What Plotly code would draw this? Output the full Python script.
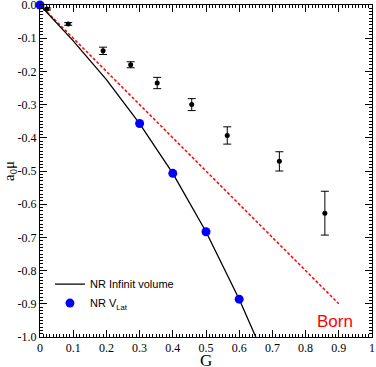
import plotly.graph_objects as go

# Data
g_data = [0.021, 0.085, 0.19, 0.273, 0.353, 0.457, 0.564, 0.721, 0.858]
a_data = [-0.012, -0.057, -0.138, -0.180, -0.235, -0.300, -0.393, -0.471, -0.627]
a_err = [0.003, 0.004, 0.011, 0.009, 0.017, 0.018, 0.026, 0.029, 0.066]

g_inf = [0.0, 0.1, 0.2, 0.3, 0.4, 0.5, 0.6, 0.65]
a_inf = [0.0, -0.108, -0.225, -0.357, -0.507, -0.683, -0.886, -1.0]

g_lat = [0.0, 0.3, 0.4, 0.5, 0.6]
a_lat = [0.0, -0.357, -0.507, -0.683, -0.886]

g_born = [0.0, 0.9]
a_born = [0.0, -0.9]

x_ticks = [0, 0.1, 0.2, 0.3, 0.4, 0.5, 0.6, 0.7, 0.8, 0.9, 1]
x_ticklabels = ["0", "0.1", "0.2", "0.3", "0.4", "0.5", "0.6", "0.7", "0.8", "0.9", "1"]
y_ticks = [0.0, -0.1, -0.2, -0.3, -0.4, -0.5, -0.6, -0.7, -0.8, -0.9, -1.0]
y_ticklabels = ["0.0", "-0.1", "-0.2", "-0.3", "-0.4", "-0.5", "-0.6", "-0.7", "-0.8", "-0.9", "-1.0"]

fig = go.Figure()

fig.add_trace(go.Scatter(
    x=g_born, y=a_born, mode="lines",
    line=dict(color="#ff0000", width=1.5, dash="3px,2px"),
    showlegend=False, hoverinfo="skip", cliponaxis=False))

fig.add_trace(go.Scatter(
    x=g_inf, y=a_inf, mode="lines", name="NR Infinit volume",
    line=dict(color="black", width=1.3)))

fig.add_trace(go.Scatter(
    x=g_lat, y=a_lat, mode="markers", name="NR V<sub>Lat</sub>",
    marker=dict(color="#0000ff", size=9), cliponaxis=False))

fig.add_trace(go.Scatter(
    x=g_data, y=a_data, mode="markers", showlegend=False,
    marker=dict(color="black", size=5),
    error_y=dict(type="data", array=a_err, color="black", thickness=1, width=4)))

fig.add_annotation(x=0.89, y=-0.953, text="Born", showarrow=False,
                   font=dict(family="Liberation Sans", size=17, color="#ff0000"))

# axis titles
fig.add_annotation(xref="paper", yref="paper", x=0.5, y=0, yshift=-23, yanchor="middle",
                   text="G", showarrow=False,
                   font=dict(family="Liberation Serif", size=17, color="black"))
fig.add_annotation(xref="paper", yref="paper", x=0, y=0.5, xshift=-30, xanchor="center",
                   text="a<sub>0</sub>μ", showarrow=False, textangle=-90,
                   font=dict(family="Liberation Serif", size=15, color="black"))

axis_common = dict(
    showline=True, linecolor="black", linewidth=1, mirror="allticks",
    ticks="inside", ticklen=7, tickwidth=1, tickcolor="black",
    showgrid=False, zeroline=False, automargin=False, ticklabeloverflow="allow",
    tickfont=dict(family="Liberation Serif", size=12, color="black"),
    minor=dict(tickmode="linear", tick0=0, dtick=0.01, ticks="inside", ticklen=3,
               tickcolor="black", tickwidth=1, showgrid=False),
)

fig.update_xaxes(range=[0, 1], tickmode="array", tickvals=x_ticks, ticktext=x_ticklabels,
                 **axis_common)
fig.update_yaxes(range=[-1.0, 0.0], tickmode="array", tickvals=y_ticks, ticktext=y_ticklabels,
                 **axis_common)

fig.update_layout(
    width=376, height=367,
    margin=dict(l=40, r=4, t=5, b=30),
    plot_bgcolor="white", paper_bgcolor="white",
    legend=dict(x=0.03, y=0.203, xanchor="left", yanchor="top",
                bgcolor="rgba(0,0,0,0)",
                font=dict(family="Liberation Sans", size=11, color="black")),
)

fig.write_html("out.html", config={"displayModeBar": False},
               post_script="document.body.style.margin='0';")
